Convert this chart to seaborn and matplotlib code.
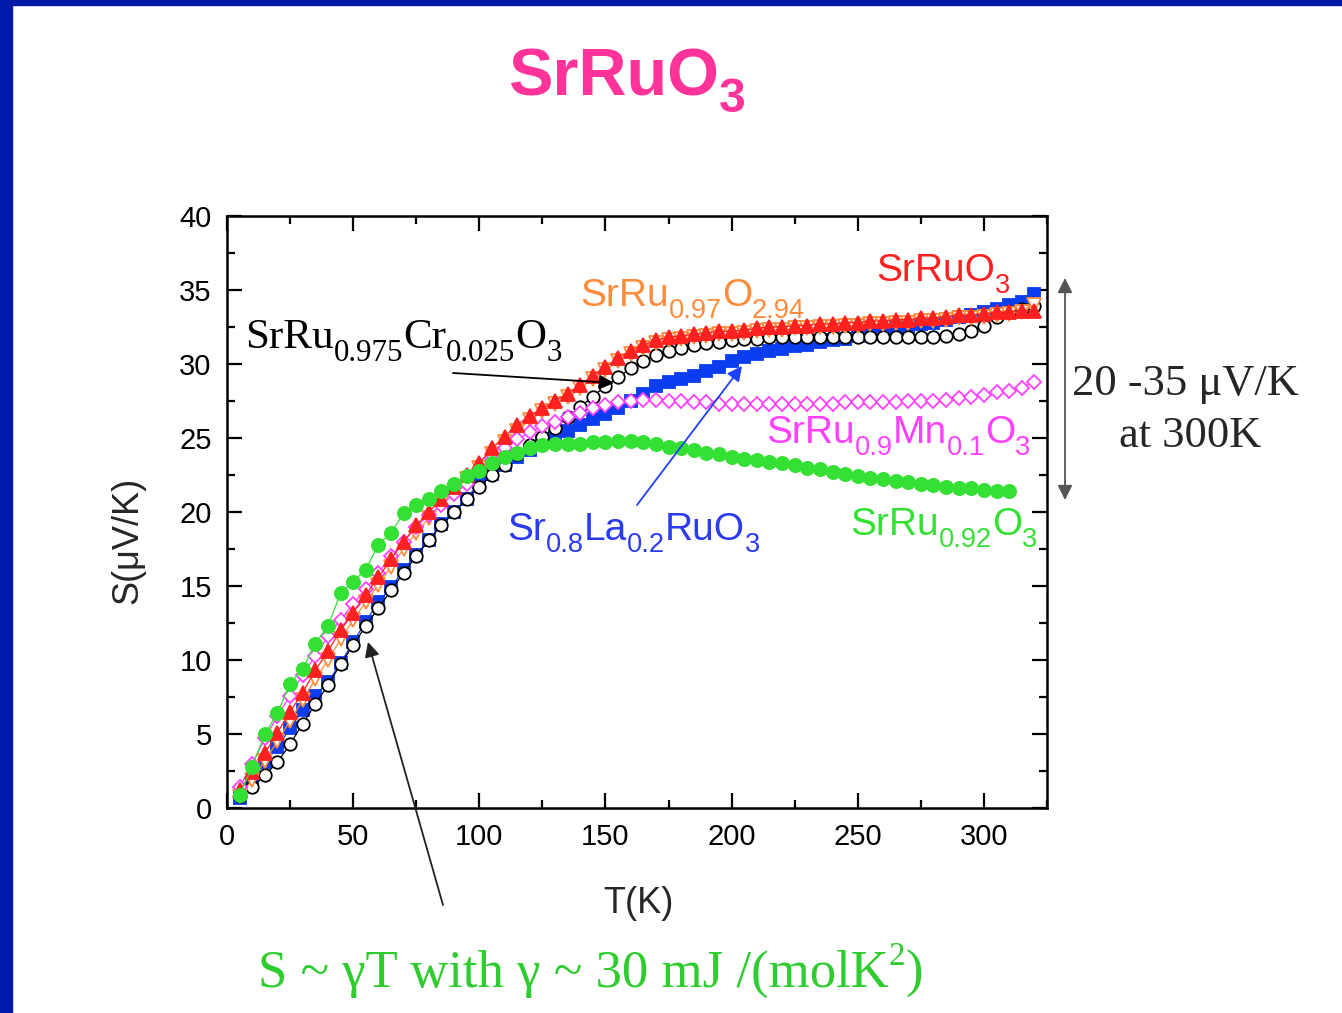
import matplotlib
matplotlib.use("Agg")
import matplotlib.pyplot as plt
import seaborn as sns
import pandas as pd
from matplotlib.ticker import MultipleLocator
from matplotlib.patches import Rectangle

# temperature grid (K)
T = [5, 10, 15, 20, 25, 30, 35, 40, 45, 50, 55, 60, 65, 70, 75, 80, 85, 90, 95, 100,
     105, 110, 115, 120, 125, 130, 135, 140, 145, 150, 155, 160, 165, 170, 175, 180,
     185, 190, 195, 200, 205, 210, 215, 220, 225, 230, 235, 240, 245, 250, 255, 260,
     265, 270, 275, 280, 285, 290, 295, 300, 305, 310, 315, 320]

# thermopower S (uV/K)
S_SrRuO3 = [1.2, 2.4, 3.7, 5.1, 6.5, 7.8, 9.3, 10.6, 12.0, 13.2, 14.4, 15.6, 16.8, 18.0, 19.1, 20.0,
            20.9, 21.7, 22.5, 23.3, 24.3, 25.1, 25.9, 26.5, 27.0, 27.5, 28.0, 28.6, 29.2, 29.8,
            30.4, 30.9, 31.3, 31.6, 31.8, 31.9, 32.0, 32.1, 32.2, 32.2, 32.3, 32.4, 32.5, 32.5,
            32.6, 32.6, 32.7, 32.7, 32.8, 32.8, 32.9, 32.9, 33.0, 33.0, 33.1, 33.1, 33.2, 33.3,
            33.3, 33.4, 33.5, 33.5, 33.6, 33.6]
S_O294 = [0.8, 1.9, 3.2, 4.5, 5.9, 7.3, 8.7, 10.0, 11.4, 12.7, 13.9, 15.1, 16.3, 17.5, 18.6, 19.6,
          20.6, 21.4, 22.2, 23.0, 23.9, 24.7, 25.5, 26.2, 26.8, 27.3, 27.8, 28.4, 29.0, 29.6,
          30.2, 30.7, 31.1, 31.4, 31.6, 31.7, 31.8, 31.9, 32.0, 32.0, 32.1, 32.2, 32.3, 32.3,
          32.4, 32.4, 32.5, 32.5, 32.6, 32.6, 32.7, 32.7, 32.8, 32.8, 32.9, 32.9, 33.0, 33.1,
          33.1, 33.2, 33.3, 33.4, 33.5, 34.0]
S_Mn = [1.4, 3.0, 4.7, 6.2, 7.6, 9.0, 10.3, 11.6, 12.7, 13.8, 14.8, 15.9, 17.0, 18.0, 19.0, 19.8,
        20.5, 21.2, 21.9, 22.8, 23.6, 24.3, 24.9, 25.4, 25.8, 26.1, 26.4, 26.7, 27.0, 27.2,
        27.4, 27.5, 27.6, 27.6, 27.5, 27.5, 27.4, 27.4, 27.3, 27.3, 27.3, 27.3, 27.3, 27.3,
        27.3, 27.3, 27.3, 27.3, 27.4, 27.4, 27.4, 27.4, 27.4, 27.5, 27.5, 27.5, 27.6, 27.7,
        27.8, 27.9, 28.1, 28.2, 28.4, 28.8]
S_Cr = [0.8, 1.4, 2.2, 3.1, 4.3, 5.7, 7.0, 8.3, 9.7, 11.0, 12.3, 13.5, 14.7, 15.9, 17.0, 18.1,
        19.1, 20.0, 20.9, 21.7, 22.5, 23.2, 23.9, 24.5, 25.1, 25.7, 26.4, 27.1, 27.8, 28.5,
        29.1, 29.7, 30.2, 30.6, 30.9, 31.1, 31.3, 31.4, 31.5, 31.6, 31.7, 31.7, 31.8, 31.8,
        31.8, 31.8, 31.8, 31.8, 31.8, 31.8, 31.8, 31.8, 31.8, 31.8, 31.8, 31.8, 31.9, 32.0,
        32.2, 32.6, 33.2, 33.5, 33.7, 33.9]
S_La = [0.7, 1.9, 3.1, 4.1, 5.4, 6.6, 7.6, 8.5, 9.8, 11.2, 12.6, 13.9, 14.9, 16.1, 17.1, 18.1,
        19.2, 20.0, 20.9, 22.0, 22.6, 23.2, 23.7, 24.2, 24.7, 25.1, 25.5, 25.9, 26.3, 26.6,
        27.0, 27.5, 28.0, 28.5, 28.8, 29.0, 29.2, 29.5, 29.8, 30.2, 30.5, 30.7, 30.9, 31.0,
        31.2, 31.3, 31.5, 31.6, 31.7, 31.9, 32.0, 32.2, 32.4, 32.5, 32.7, 32.8, 33.0, 33.2,
        33.3, 33.5, 33.7, 34.0, 34.2, 34.7]
S_092 = [0.9, 2.8, 5.0, 6.4, 8.4, 9.4, 11.1, 12.3, 14.5, 15.3, 16.1, 17.8, 18.6, 19.9, 20.5, 20.9,
         21.4, 21.9, 22.4, 22.8, 23.3, 23.7, 24.0, 24.3, 24.5, 24.6, 24.6, 24.6, 24.7, 24.7,
         24.8, 24.8, 24.7, 24.6, 24.4, 24.3, 24.2, 24.0, 23.9, 23.7, 23.6, 23.5, 23.4, 23.3,
         23.2, 23.0, 22.9, 22.7, 22.6, 22.4, 22.3, 22.2, 22.1, 22.0, 21.9, 21.8, 21.7, 21.6,
         21.6, 21.5, 21.4, 21.4]

sns.set_style("ticks")
plt.rcParams["font.family"] = ["Liberation Sans", "DejaVu Sans"]

W, H = 1342, 1013
fig = plt.figure(figsize=(W / 100, H / 100), dpi=100)
fig.patch.set_facecolor("white")
ax = fig.add_axes([227 / W, 1 - 808 / H, 820 / W, 592 / H])
renderer = fig.canvas.get_renderer()

# slide frame
fig.add_artist(Rectangle((0, 0), 12 / W, 1, transform=fig.transFigure, color="#0019A8", zorder=0))
fig.add_artist(Rectangle((0, 1 - 5 / H), 1, 5 / H, transform=fig.transFigure, color="#0019A8", zorder=0))

series = [
    (S_La, "#0A3CF0", "s", "#0A3CF0", 8.5),
    (S_Cr, "black", "o", "white", 9),
    (S_O294, "#FF8C3C", "v", "white", 9.5),
    (S_Mn, "#FF40FF", "D", "white", 7.5),
    (S_SrRuO3, "#FF2020", "^", "#FF2020", 10),
    (S_092, "#33E033", "o", "#33E033", 9.5),
]
for s, col, mk, fc, ms in series:
    d = pd.DataFrame({"T": T[:len(s)], "S": s})
    sns.lineplot(data=d, x="T", y="S", ax=ax, color=col, lw=0.9, estimator=None,
                 marker=mk, markersize=ms, markerfacecolor=fc, markeredgecolor=col,
                 markeredgewidth=1.3)

ax.set_xlim(0, 325)
ax.set_ylim(0, 40)
ax.xaxis.set_major_locator(MultipleLocator(50))
ax.xaxis.set_minor_locator(MultipleLocator(25))
ax.yaxis.set_major_locator(MultipleLocator(5))
ax.yaxis.set_minor_locator(MultipleLocator(2.5))
ax.tick_params(which="both", direction="in", top=True, right=True, width=1.6, colors="black",
               labelsize=21, pad=11)
ax.tick_params(which="major", length=11)
ax.tick_params(which="minor", length=6)
for sp in ax.spines.values():
    sp.set_linewidth(1.8)
    sp.set_color("black")
ax.set_xlabel("")
ax.set_ylabel("")

# axis labels
fig.text(638 / W, 1 - 903 / H, "T(K)", fontsize=26, ha="center", va="center")
fig.text(128 / W, 1 - 540 / H, "S(\u03bcV/K)", fontsize=26, ha="center", va="center", rotation=90)


def formula(x, y, parts, size, color="black", family=None, weight="normal",
            scale=0.7, drop=0.3, rise=0.42):
    """Write text pieces left to right from pixel (x, y) baseline; 'sub'/'sup' pieces shrink."""
    fam = family or ["Liberation Sans", "DejaVu Sans"]
    cx = x
    em = size * 100 / 72
    for txt, kind in parts:
        fs, yy = size, H - y
        if kind == "sub":
            fs, yy = size * scale, H - y - drop * em
        elif kind == "sup":
            fs, yy = size * scale, H - y + rise * em
        t = fig.text(cx / W, yy / H, txt, fontsize=fs, color=color, family=fam,
                     fontweight=weight, ha="left", va="baseline")
        cx += t.get_window_extent(renderer).width
    return cx


serif = ["Liberation Serif", "DejaVu Serif"]
formula(508, 95, [("SrRuO", ""), ("3", "sub")], 48, "#FF3399", weight="bold", scale=0.72, drop=0.26)
formula(245, 348, [("SrRu", ""), ("0.975", "sub"), ("Cr", ""), ("0.025", "sub"), ("O", ""), ("3", "sub")],
        31, "black", family=serif, scale=0.72)
formula(580, 306, [("SrRu", ""), ("0.97", "sub"), ("O", ""), ("2.94", "sub")], 28, "#FF8C3C")
formula(876, 281, [("SrRuO", ""), ("3", "sub")], 28, "#FF2020")
formula(766, 443, [("SrRu", ""), ("0.9", "sub"), ("Mn", ""), ("0.1", "sub"), ("O", ""), ("3", "sub")],
        28, "#FF40FF")
formula(850, 535, [("SrRu", ""), ("0.92", "sub"), ("O", ""), ("3", "sub")], 28, "#33E033")
formula(507, 540, [("Sr", ""), ("0.8", "sub"), ("La", ""), ("0.2", "sub"), ("RuO", ""), ("3", "sub")],
        28, "#2B3BF0")

fig.text(1185 / W, 1 - 395 / H, "20 -35 \u03bcV/K", fontsize=32, family=serif, ha="center", va="baseline")
fig.text(1190 / W, 1 - 447 / H, "at 300K", fontsize=32, family=serif, ha="center", va="baseline")
formula(258, 987, [("S ~ \u03b3T with \u03b3 ~ 30 mJ /(molK", ""), ("2", "sup"), (")", "")],
        38, "#2ECC2E", family=serif, scale=0.62)


# arrows
def arrow(x0, y0, x1, y1, color, style="-|>"):
    ax.annotate("", xy=(x1, H - y1), xycoords="figure pixels",
                xytext=(x0, H - y0), textcoords="figure pixels",
                arrowprops=dict(arrowstyle=style, color=color, lw=1.3,
                                mutation_scale=22, shrinkA=0, shrinkB=0))


arrow(453, 373, 614, 383, "black")
arrow(637, 505, 742, 366, "#1F3FFF")
arrow(443, 905, 368, 642, "#222222")
arrow(1065, 500, 1065, 278, "#555555", style="<|-|>")

fig.savefig("out.png", dpi=100)
